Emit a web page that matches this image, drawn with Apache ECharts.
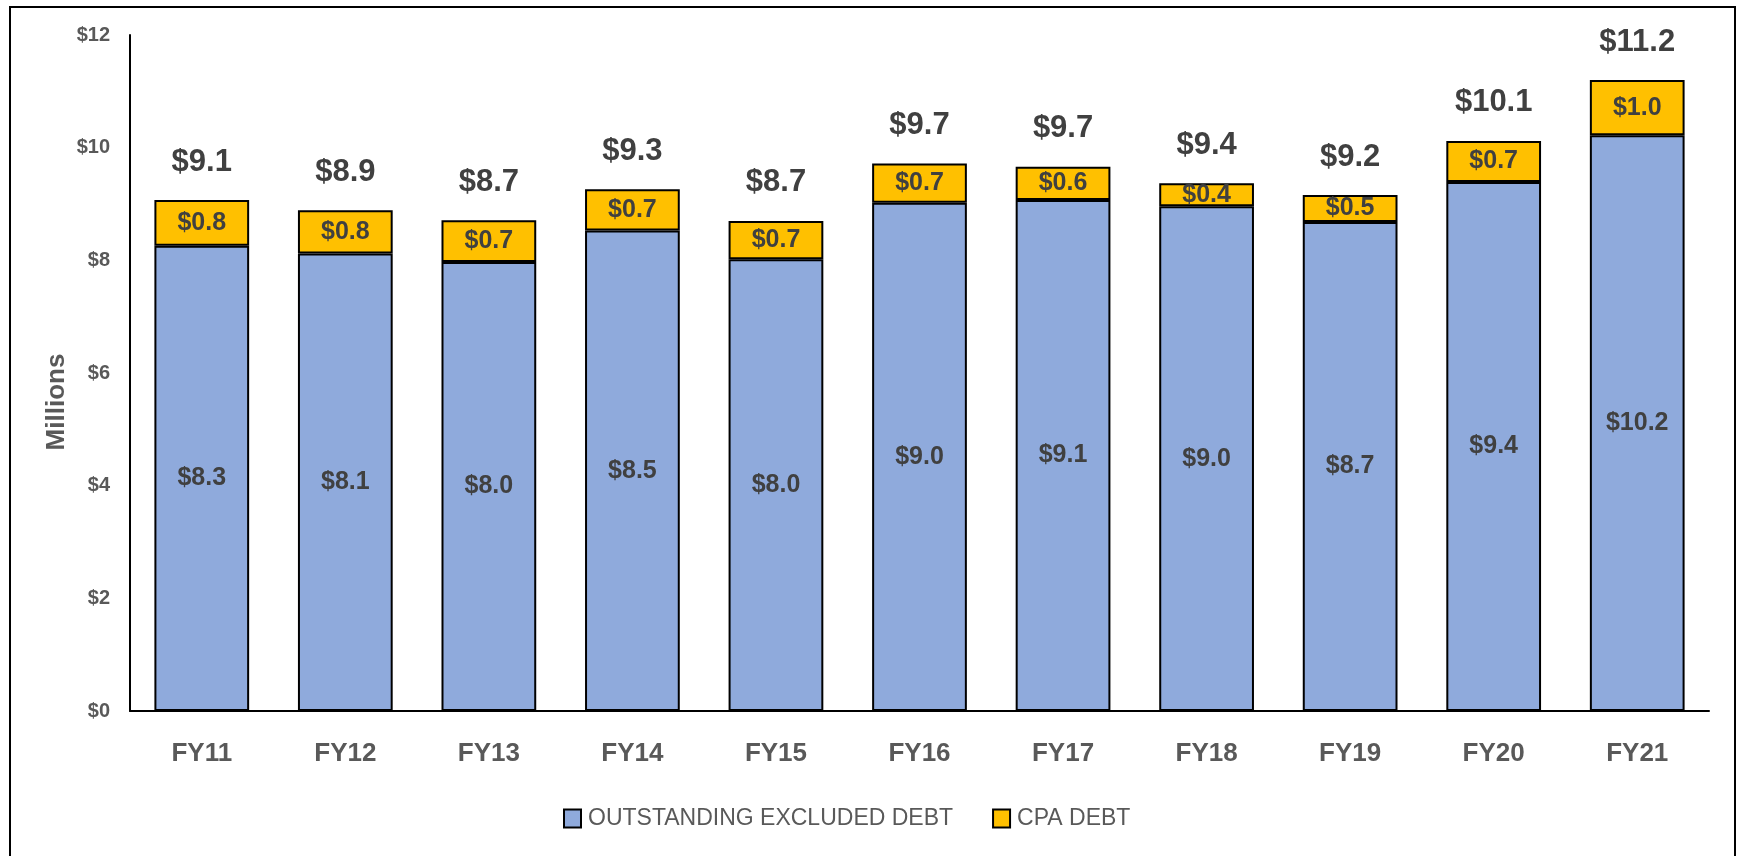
<!DOCTYPE html>
<html>
<head>
<meta charset="utf-8">
<script src="https://cdn.jsdelivr.net/npm/echarts@6/dist/echarts.min.js"></script>
<style>
html,body{margin:0;padding:0;background:#fff;}
#chart{width:1741px;height:856px;}
</style>
</head>
<body>
<div id="chart"></div>
<script>
const categories = ['FY11','FY12','FY13','FY14','FY15','FY16','FY17','FY18','FY19','FY20','FY21'];
const excludedDebt = [8.26, 8.12, 7.97, 8.53, 8.02, 9.02, 9.07, 8.96, 8.68, 9.39, 10.22];
const cpaDebt = [0.81, 0.77, 0.74, 0.73, 0.68, 0.70, 0.59, 0.41, 0.48, 0.73, 0.98];
const seriesNames = ['OUTSTANDING EXCLUDED DEBT', 'CPA DEBT'];
const yTicks = [0, 2, 4, 6, 8, 10, 12];
const yTitle = 'Millions';

const totals = excludedDebt.map((v, i) => +(v + cpaDebt[i]).toFixed(2));
const money = v => '$' + (+v).toFixed(1);
const FONT = '"Liberation Sans", Arial, sans-serif';

const chart = echarts.init(document.getElementById('chart'), null, {renderer: 'canvas'});
chart.setOption({
  animation: false,
  backgroundColor: '#ffffff',
  graphic: [
    {
      type: 'rect', z: 100, silent: true,
      shape: {x: 10, y: 7, width: 1725, height: 900},
      style: {fill: 'none', stroke: '#000', lineWidth: 2}
    },
    {
      type: 'text', silent: true, x: 57, y: 402, rotation: Math.PI / 2,
      style: {text: yTitle, fontFamily: FONT, fontSize: 26, fontWeight: 'bold', fill: '#595959',
        align: 'center', verticalAlign: 'middle'}
    }
  ],
  grid: {left: 130, right: 32, top: 35, bottom: 145, containLabel: false},
  legend: {
    data: seriesNames,
    left: 558, top: 802,
    icon: 'rect', itemWidth: 17, itemHeight: 18, itemGap: 39,
    itemStyle: {borderColor: '#000', borderWidth: 2},
    textStyle: {fontFamily: FONT, fontSize: 23, color: '#595959', padding: [0, 0, 0, 2]}
  },
  xAxis: {
    type: 'category', data: categories,
    axisLine: {lineStyle: {color: '#000', width: 2}},
    axisTick: {show: false},
    axisLabel: {fontFamily: FONT, fontSize: 26, fontWeight: 'bold', color: '#595959', margin: 30}
  },
  yAxis: {
    type: 'value', min: yTicks[0], max: yTicks[yTicks.length-1], interval: 2,
    axisLine: {show: true, lineStyle: {color: '#000', width: 2}},
    axisTick: {show: false},
    splitLine: {show: false},
    axisLabel: {fontFamily: FONT, fontSize: 20, fontWeight: 'bold', color: '#595959', margin: 20,
      formatter: v => '$' + v}
  },
  series: [
    {
      name: seriesNames[0], type: 'bar', stack: 'debt', data: excludedDebt,
      barCategoryGap: '34%',
      itemStyle: {color: '#8FAADC', borderColor: '#000', borderWidth: 2},
      label: {show: true, position: 'inside', formatter: p => money(p.value),
        fontFamily: FONT, fontSize: 25, fontWeight: 'bold', color: '#404040'}
    },
    {
      name: seriesNames[1], type: 'bar', stack: 'debt', data: cpaDebt,
      itemStyle: {color: '#FFC000', borderColor: '#000', borderWidth: 2},
      label: {show: true, position: 'inside', formatter: p => money(p.value),
        fontFamily: FONT, fontSize: 25, fontWeight: 'bold', color: '#404040'}
    },
    {
      name: 'total', type: 'scatter', data: totals, symbolSize: 1,
      itemStyle: {color: 'rgba(0,0,0,0)', opacity: 1}, silent: true,
      label: {show: true, position: 'top', distance: 22, formatter: p => money(p.value),
        fontFamily: FONT, fontSize: 31, fontWeight: 'bold', color: '#404040', opacity: 1}
    }
  ]
});
</script>
</body>
</html>
